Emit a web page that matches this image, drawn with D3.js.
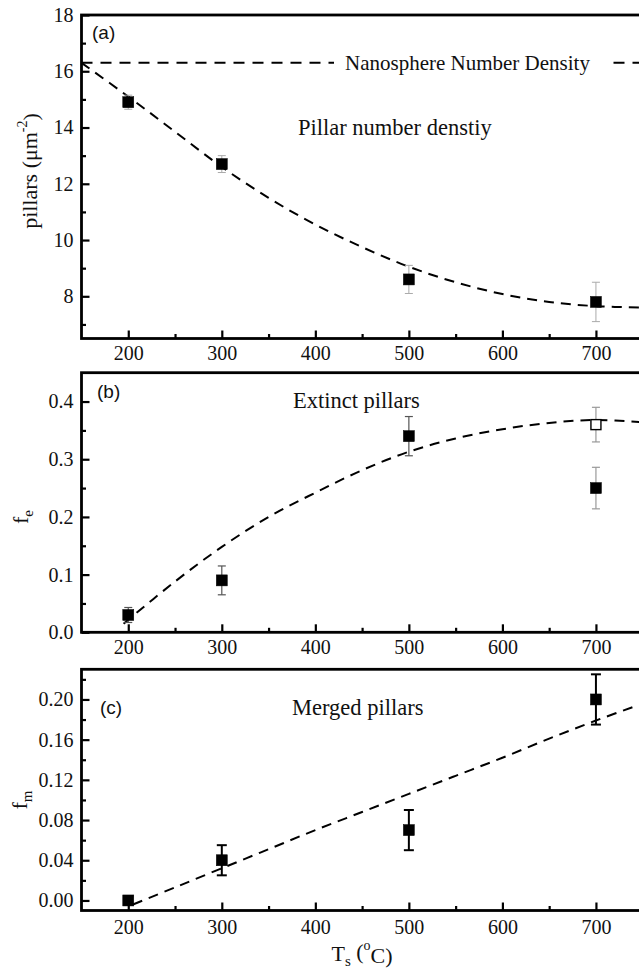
<!DOCTYPE html>
<html><head><meta charset="utf-8">
<script src="https://cdn.jsdelivr.net/npm/d3@7"></script>
<style>body{margin:0;background:#fff}svg{display:block}svg text{font-family:'Liberation Serif','Times New Roman',serif}</style>
</head><body>
<svg id="chart" width="639" height="971"></svg>
<script>
// ---- data ----
const temps = [200, 300, 500, 700];
const densityValues = [14.9, 12.7, 8.6, 7.8];
const densityErrors = [0.25, 0.3, 0.5, 0.7];
const nanosphereDensity = 16.3;
const densityFitX = [150, 200, 250, 300, 350, 400, 450, 500, 550, 600, 650, 700, 750];
const densityFitY = [16.3, 15.1, 13.85, 12.6, 11.5, 10.55, 9.75, 9.05, 8.5, 8.08, 7.8, 7.65, 7.6];

const extinctValues = [0.03, 0.09, 0.34, 0.25];
const extinctErrors = [0.013, 0.025, 0.034, 0.036];
const extinctOpenTemp = [700];
const extinctOpenValue = [0.36];
const extinctOpenError = [0.03];
const extinctFitX = [195, 250, 300, 350, 400, 450, 500, 550, 600, 650, 700, 750];
const extinctFitY = [0.015, 0.088, 0.148, 0.2, 0.242, 0.281, 0.313, 0.336, 0.352, 0.363, 0.368, 0.364];

const mergedValues = [0.0, 0.04, 0.07, 0.20];
const mergedErrors = [0.004, 0.015, 0.02, 0.025];
const mergedFitX = [205, 250, 300, 350, 400, 450, 500, 550, 600, 650, 700, 750];
const mergedFitY = [-0.004, 0.013, 0.032, 0.051, 0.07, 0.088, 0.106, 0.124, 0.142, 0.161, 0.179, 0.196];

const xMajor = [200, 300, 400, 500, 600, 700];
const xMinor = [250, 350, 450, 550, 650];
const aMajor = [8, 10, 12, 14, 16, 18];
const aMinor = [7, 9, 11, 13, 15, 17];
const bMajor = [0.0, 0.1, 0.2, 0.3, 0.4];
const bMinor = [0.05, 0.15, 0.25, 0.35];
const cMajor = [0.00, 0.04, 0.08, 0.12, 0.16, 0.20];
const cMinor = [0.02, 0.06, 0.10, 0.14, 0.18, 0.22];

// ---- layout ----
const svg = d3.select("#chart");
const serif = "'Liberation Serif','Times New Roman',serif";
const sans = "'Liberation Sans',Arial,sans-serif";
const x = d3.scaleLinear().domain([150, 750]).range([81.5, 642.7]);

function panel(opts) {
  const y = d3.scaleLinear().domain(opts.domain).range(opts.range);
  const g = svg.append("g");
  const [y0, y1] = opts.range;
  const axB = d3.axisBottom(x).tickValues(xMajor).tickSizeInner(-8).tickSizeOuter(0).tickPadding(opts.xpad).tickFormat(d3.format("d"));
  const axBm = d3.axisBottom(x).tickValues(xMinor).tickSizeInner(-4.5).tickSizeOuter(0).tickFormat("");
  const axL = d3.axisLeft(y).tickValues(opts.major).tickSizeInner(-8).tickSizeOuter(0).tickPadding(8).tickFormat(opts.fmt);
  const axLm = d3.axisLeft(y).tickValues(opts.minor).tickSizeInner(-4.5).tickSizeOuter(0).tickFormat("");
  [axBm, axB].forEach(a => g.append("g").attr("transform", `translate(0,${y0})`).call(a));
  [axLm, axL].forEach(a => g.append("g").attr("transform", `translate(${x.range()[0]},0)`).call(a));
  g.selectAll(".domain").remove();
  g.selectAll(".tick line").attr("stroke", "#000").attr("stroke-width", 2.2);
  g.selectAll(".tick text").style("font-family", serif).style("font-size", "20px").attr("fill", "#111");
  g.append("rect").attr("x", x.range()[0]).attr("y", y1).attr("width", x.range()[1] - x.range()[0]).attr("height", y0 - y1)
    .attr("fill", "none").attr("stroke", "#000").attr("stroke-width", 2.8);
  return { g, y };
}

function fitLine(g, y, xs, ys) {
  const line = d3.line().x(d => x(d[0])).y(d => y(d[1])).curve(d3.curveCatmullRom);
  g.append("path").datum(xs.map((v, i) => [v, ys[i]])).attr("d", line)
    .attr("fill", "none").attr("stroke", "#000").attr("stroke-width", 2).attr("stroke-dasharray", "10,7");
}

function points(g, y, xs, vs, es, style) {
  const pg = g.append("g");
  xs.forEach((t, i) => {
    const cx = x(t), cy = y(vs[i]);
    const top = y(vs[i] + es[i]), bot = y(vs[i] - es[i]);
    pg.append("line").attr("x1", cx).attr("x2", cx).attr("y1", top).attr("y2", bot).attr("stroke", style.ecol).attr("stroke-width", style.ew);
    [top, bot].forEach(yy => pg.append("line").attr("x1", cx - style.cap).attr("x2", cx + style.cap).attr("y1", yy).attr("y2", yy)
      .attr("stroke", style.ecol).attr("stroke-width", style.ew));
    const s = style.size;
    pg.append("rect").attr("x", cx - s / 2).attr("y", cy - s / 2).attr("width", s).attr("height", s)
      .attr("fill", style.open ? "#fff" : "#000").attr("stroke", "#000").attr("stroke-width", style.open ? 1.4 : 0.5);
  });
}

function label(g, xx, yy, txt, size, fam) {
  return g.append("text").attr("x", xx).attr("y", yy).attr("dy", "0.33em")
    .style("font-family", fam).style("font-size", size + "px").attr("fill", "#111").text(txt);
}

// ---- panel (a) ----
const A = panel({ domain: [6.5, 18], range: [338.5, 15], major: aMajor, minor: aMinor, fmt: d3.format("d"), xpad: 7 });
A.g.append("line").attr("x1", x(150)).attr("x2", x(750)).attr("y1", A.y(nanosphereDensity)).attr("y2", A.y(nanosphereDensity))
  .attr("stroke", "#000").attr("stroke-width", 2).attr("stroke-dasharray", "11,8");
A.g.append("rect").attr("x", 334).attr("y", A.y(nanosphereDensity) - 8).attr("width", 272).attr("height", 16).attr("fill", "#fff");
label(A.g, 345, A.y(nanosphereDensity), "Nanosphere Number Density", 21, serif);
fitLine(A.g, A.y, densityFitX, densityFitY);
points(A.g, A.y, temps, densityValues, densityErrors, { ecol: "#aaa", ew: 1, cap: 4, size: 11 });
label(A.g, 298, 128, "Pillar number denstiy", 22.5, serif);
label(A.g, 92, 33, "(a)", 19, sans);
const ya = svg.append("text").attr("transform", "translate(37,171) rotate(-90)").attr("text-anchor", "middle")
  .style("font-family", serif).style("font-size", "22px").attr("fill", "#111");
ya.append("tspan").text("pillars (μm");
ya.append("tspan").style("font-size", "14px").attr("dy", "-0.75em").text("-2");
ya.append("tspan").attr("dy", "0.5em").text(")");

// ---- panel (b) ----
const B = panel({ domain: [0, 0.45], range: [632.3, 372.7], major: bMajor, minor: bMinor, fmt: d3.format(".1f"), xpad: 8 });
fitLine(B.g, B.y, extinctFitX, extinctFitY);
points(B.g, B.y, temps.slice(0, 3), extinctValues.slice(0, 3), extinctErrors.slice(0, 3), { ecol: "#555", ew: 1.2, cap: 4, size: 11 });
points(B.g, B.y, temps.slice(3), extinctValues.slice(3), extinctErrors.slice(3), { ecol: "#999", ew: 1.2, cap: 4, size: 11 });
points(B.g, B.y, extinctOpenTemp, extinctOpenValue, extinctOpenError, { ecol: "#999", ew: 1.2, cap: 4, size: 10, open: true });
label(B.g, 293, 401, "Extinct pillars", 22.5, serif);
label(B.g, 97, 392, "(b)", 19, sans);
const yb = svg.append("text").attr("transform", "translate(28,517) rotate(-90)").attr("text-anchor", "middle")
  .style("font-family", serif).style("font-size", "22px").attr("fill", "#111");
yb.append("tspan").text("f");
yb.append("tspan").style("font-size", "15px").attr("dy", "0.3em").text("e");

// ---- panel (c) ----
const C = panel({ domain: [-0.01, 0.23], range: [910.5, 669.3], major: cMajor, minor: cMinor, fmt: d3.format(".2f"), xpad: 9 });
fitLine(C.g, C.y, mergedFitX, mergedFitY);
points(C.g, C.y, temps, mergedValues, mergedErrors, { ecol: "#000", ew: 2, cap: 5, size: 11 });
label(C.g, 292, 708, "Merged pillars", 22.5, serif);
label(C.g, 100, 708, "(c)", 19, sans);
const yc = svg.append("text").attr("transform", "translate(27,800) rotate(-90)").attr("text-anchor", "middle")
  .style("font-family", serif).style("font-size", "22px").attr("fill", "#111");
yc.append("tspan").text("f");
yc.append("tspan").style("font-size", "15px").attr("dy", "0.3em").text("m");

// x title
const xt = svg.append("text").attr("x", 362).attr("y", 961).attr("text-anchor", "middle")
  .style("font-family", serif).style("font-size", "22px").attr("fill", "#111");
xt.append("tspan").text("T");
xt.append("tspan").style("font-size", "15px").attr("dy", "0.35em").text("s");
xt.append("tspan").attr("dy", "-0.35em").text(" (");
xt.append("tspan").style("font-size", "14px").attr("dy", "-0.6em").text("o");
xt.append("tspan").attr("dy", "0.6em").text("C)");
</script>
</body></html>
